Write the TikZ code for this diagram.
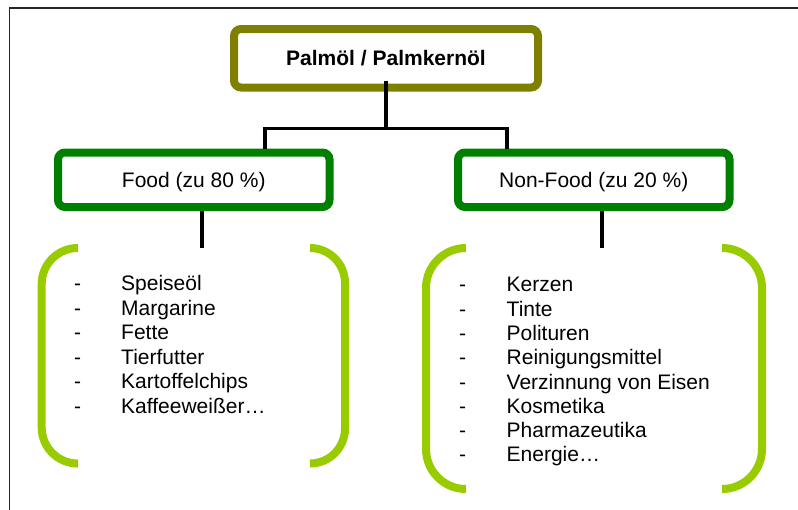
\documentclass[tikz,border=0pt]{standalone}
\usepackage{fontspec}
\setmainfont{Liberation Sans}
\definecolor{olivebox}{HTML}{808000}
\definecolor{greenbox}{HTML}{008000}
\definecolor{lime}{HTML}{99CC00}
\begin{document}
\begin{tikzpicture}[x=1pt,y=-1pt,
  box/.style={draw, rounded corners=7pt, line width=8pt, fill=white, inner sep=0pt,
    text height=15pt, text depth=0pt, font=\fontsize{21}{24}\selectfont},
  conn/.style={draw=black, line width=3.5pt},
  bracket/.style={draw=lime, line width=8pt, line cap=butt},
  item/.style={inner sep=0pt, anchor=base west, font=\fontsize{21}{24}\selectfont},
  frame/.style={draw=black!85, line width=1.6pt}]
\useasboundingbox (0,0) rectangle (798,509);
% outer frame (cropped)
\draw[frame] (9.5,512) -- (9.5,8) -- (802,8);
% boxes
\node[box, draw=olivebox, minimum width=304pt, minimum height=58.5pt, font=\fontsize{21}{24}\selectfont\bfseries] (top) at (386,58.25) {Palmöl / Palmkernöl};
\node[box, draw=greenbox, minimum width=271.5pt, minimum height=54.5pt] (food) at (193.75,179.75) {Food (zu 80 \%)};
\node[box, draw=greenbox, minimum width=271.5pt, minimum height=54.5pt] (nonfood) at (593.75,179.75) {Non-Food (zu 20 \%)};
% tree connectors
\coordinate (jl) at (265,128.5);
\coordinate (jr) at (507,128.5);
\draw[conn] ([yshift=11pt]top.south) -- (top.south |- jl);
\draw[conn] ([xshift=-1.75pt]jl) -- ([xshift=1.75pt]jr);
\draw[conn] (jl) -- (jl |- food.north);
\draw[conn] (jr) -- (jr |- nonfood.north);
% stubs below boxes
\coordinate (fs) at (202,248);
\coordinate (ns) at (602,248);
\draw[conn] (fs |- food.south) -- (fs);
\draw[conn] (ns |- nonfood.south) -- (ns);
% brackets food
\draw[bracket, rounded corners=36pt] (78,248) -- (41.7,248) -- (41.7,463.5) -- (78,463.5);
\draw[bracket, rounded corners=35pt] (310,248) -- (345,248) -- (345,463.5) -- (310,463.5);
% brackets non-food
\draw[bracket, rounded corners=40pt] (466,248) -- (426,248) -- (426,489) -- (466,489);
\draw[bracket, rounded corners=40pt] (722,248) -- (762,248) -- (762,489) -- (722,489);
% food list
\foreach \t [count=\i] in {Speiseöl,Margarine,Fette,Tierfutter,Kartoffelchips,Kaffeeweißer…}{
  \node[item] (fd\i) at (74,{290.8+24.5*(\i-1)}) {-};
  \node[item] (fi\i) at (121,{290.8+24.5*(\i-1)}) {\t};
}
% non-food list
\foreach \t [count=\i] in {Kerzen,Tinte,Polituren,Reinigungsmittel,Verzinnung von Eisen,Kosmetika,Pharmazeutika,Energie…}{
  \node[item] (nd\i) at (459,{291.8+24.3*(\i-1)}) {-};
  \node[item] (ni\i) at (506.5,{291.8+24.3*(\i-1)}) {\t};
}
\end{tikzpicture}
\end{document}
